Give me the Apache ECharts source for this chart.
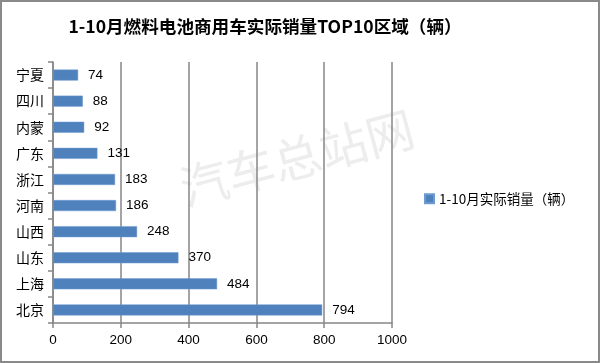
<!DOCTYPE html>
<html><head><meta charset="utf-8">
<script src="https://cdn.jsdelivr.net/npm/echarts@6/dist/echarts.min.js"></script>
<style>html,body{margin:0;padding:0;background:#fff;}#c{width:600px;height:363px;}</style>
</head><body><div id="c"></div>
<script>
const titleText = '1-10月燃料电池商用车实际销量TOP10区域（辆）';
const seriesName = '1-10月实际销量（辆）';
const categories = ['北京','上海','山东','山西','河南','浙江','广东','内蒙','四川','宁夏'];
const values = [794,484,370,248,186,183,131,92,88,74];
const xTicks = [0,200,400,600,800,1000];

const chart = echarts.init(document.getElementById('c'));
chart.setOption({
  animation:false,
  backgroundColor:'#fff',
  title:{text:titleText,left:260,top:13,textAlign:'center',
    textStyle:{fontFamily:'Noto Sans CJK SC',fontWeight:'bold',fontSize:17.6,color:'#000'}},
  legend:{left:419,top:187,itemWidth:9,itemHeight:9,itemGap:6,icon:'rect',
    data:[seriesName],
    textStyle:{fontFamily:'Noto Sans CJK SC',fontSize:13.5,color:'#000'}},
  grid:{left:53,right:208,top:62,bottom:40},
  xAxis:{type:'value',min:xTicks[0],max:xTicks[xTicks.length-1],interval:200,
    axisLine:{show:true,lineStyle:{color:'#868686',width:1.5}},
    axisTick:{show:true,length:5,lineStyle:{color:'#868686',width:1.5}},
    axisLabel:{fontFamily:'Liberation Sans',fontSize:13.5,color:'#000',margin:10,formatter:v=>String(v)},
    splitLine:{show:true,lineStyle:{color:'#868686',width:1.5}}},
  yAxis:{type:'category',data:categories,
    axisLine:{show:true,lineStyle:{color:'#868686',width:1.5}},
    axisTick:{show:true,length:5,lineStyle:{color:'#868686',width:1.5}},
    axisLabel:{fontFamily:'Noto Sans CJK SC',fontSize:14,color:'#000',margin:9}},
  graphic:[
    {type:'text',z:-10,x:297,y:158,rotation:15*Math.PI/180,
      style:{text:'汽车总站网',font:'48px "Noto Sans CJK SC"',fill:'#ededed',align:'center',verticalAlign:'middle'}},
    {type:'rect',shape:{x:1,y:1,width:598,height:361},style:{fill:'none',stroke:'#8a8a8a',lineWidth:2}}
  ],
  series:[{name:seriesName,type:'bar',data:values,barWidth:11,
    itemStyle:{color:'#4F81BD',borderColor:'#6f9ad0',borderWidth:0.5},
    label:{show:true,position:'right',distance:10,fontFamily:'Liberation Sans',fontSize:13.5,color:'#000'}}]
});
</script></body></html>
